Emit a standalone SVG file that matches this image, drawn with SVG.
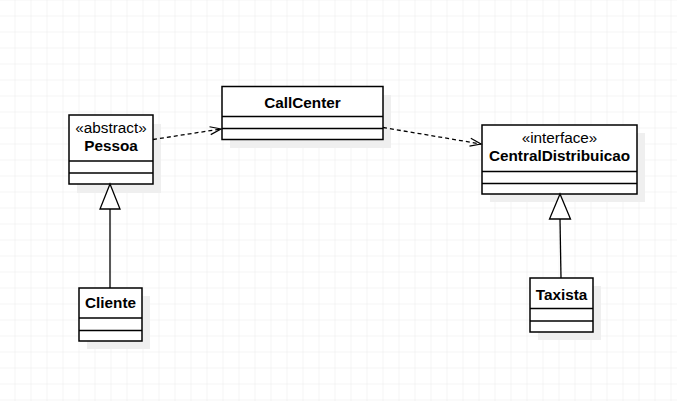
<svg xmlns="http://www.w3.org/2000/svg" width="677" height="401" viewBox="0 0 677 401">
<defs>
<pattern id="grid" x="-0.5" y="0.5" width="16" height="16" patternUnits="userSpaceOnUse">
<path d="M16 0 V16 M0 16 H16" fill="none" stroke="#ebebeb" stroke-width="1"/>
</pattern>
<marker id="open" markerWidth="14" markerHeight="12" refX="12" refY="5" orient="auto" markerUnits="userSpaceOnUse">
<path d="M1 1 L12 5 L1 9" fill="none" stroke="#000" stroke-width="1.2"/>
</marker>
</defs>
<style>
.box{fill:#fff;stroke:#000;stroke-width:1.5}
.sh{fill:#efefef}
.div{stroke:#000;stroke-width:1.5}
.st{font-family:"Liberation Sans",Arial,sans-serif;font-size:15.3px;text-anchor:middle;fill:#000}
.nm{font-family:"Liberation Sans",Arial,sans-serif;font-size:15.3px;font-weight:bold;text-anchor:middle;fill:#000}
.dash{fill:none;stroke:#000;stroke-width:1.3;stroke-dasharray:4 3}
.gen{fill:none;stroke:#000;stroke-width:1.3}
.tri{fill:#fff;stroke:#000;stroke-width:1.3}
</style>
<rect width="677" height="401" fill="#fff"/>
<rect width="677" height="401" fill="url(#grid)"/>

<g id="Pessoa">
<rect class="sh" x="77" y="124" width="84" height="69"/>
<rect class="box" x="69" y="115" width="84" height="69"/>
<text class="st" x="111" y="133">«abstract»</text>
<text class="nm" x="111" y="151">Pessoa</text>
<line class="div" x1="69" y1="161" x2="153" y2="161"/>
<line class="div" x1="69" y1="173" x2="153" y2="173"/>
</g>

<g id="CallCenter">
<rect class="sh" x="230" y="95" width="161" height="53"/>
<rect class="box" x="222" y="86.5" width="161" height="53"/>
<text class="nm" x="302.5" y="107.5">CallCenter</text>
<line class="div" x1="222" y1="116.5" x2="383" y2="116.5"/>
<line class="div" x1="222" y1="128.5" x2="383" y2="128.5"/>
</g>

<g id="CentralDistribuicao">
<rect class="sh" x="490" y="133" width="155" height="69"/>
<rect class="box" x="482" y="125" width="155" height="69"/>
<text class="st" x="559.5" y="143">«interface»</text>
<text class="nm" x="559.5" y="160.5">CentralDistribuicao</text>
<line class="div" x1="482" y1="171.5" x2="637" y2="171.5"/>
<line class="div" x1="482" y1="183.5" x2="637" y2="183.5"/>
</g>

<g id="Cliente">
<rect class="sh" x="87" y="296" width="63" height="53"/>
<rect class="box" x="79" y="288" width="63" height="53"/>
<text class="nm" x="110.5" y="307.5">Cliente</text>
<line class="div" x1="79" y1="318" x2="142" y2="318"/>
<line class="div" x1="79" y1="330.5" x2="142" y2="330.5"/>
</g>

<g id="Taxista">
<rect class="sh" x="538" y="286" width="63" height="54"/>
<rect class="box" x="530" y="278" width="63" height="54"/>
<text class="nm" x="561.5" y="300">Taxista</text>
<line class="div" x1="530" y1="308.5" x2="593" y2="308.5"/>
<line class="div" x1="530" y1="321" x2="593" y2="321"/>
</g>

<g id="connectors">
<line class="dash" x1="153" y1="139.5" x2="221" y2="129" marker-end="url(#open)"/>
<line class="dash" x1="383" y1="127.5" x2="481" y2="144" marker-end="url(#open)"/>
<line class="gen" x1="110" y1="288" x2="110" y2="209"/>
<polygon class="tri" points="110,184 100,209 120,209"/>
<line class="gen" x1="561" y1="278" x2="560" y2="219"/>
<polygon class="tri" points="560,194 549.5,219 570.5,219"/>
</g>
</svg>
